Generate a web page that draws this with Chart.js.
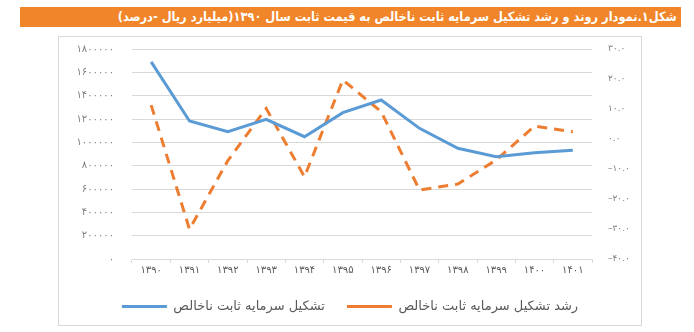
<!DOCTYPE html>
<html lang="fa">
<head>
<meta charset="utf-8">
<script src="https://cdn.jsdelivr.net/npm/chart.js@4.4.1/dist/chart.umd.min.js"></script>
<style>
  body { margin: 0; background: #fff; width: 694px; height: 332px; overflow: hidden; font-family: "DejaVu Sans", sans-serif; }
  .title-bar { position: absolute; left: 20px; top: 7px; width: 661px; height: 20px; background: #F0852A; }
  .title-bar span { position: absolute; right: 4px; top: 1px; color: #fff; font-weight: bold; font-size: 13px; line-height: 17px; white-space: nowrap; direction: rtl; transform-origin: right center; }
  .chart-box { position: absolute; left: 58px; top: 36px; width: 582px; height: 288px; border: 1px solid #d9d9d9; }
</style>
</head>
<body>
<div class="title-bar"><span id="title">شکل۱.نمودار روند و رشد تشکیل سرمایه ثابت ناخالص به قیمت ثابت سال ۱۳۹۰(میلیارد ریال -درصد)</span></div>
<div class="chart-box"><canvas id="chart" width="582" height="288"></canvas></div>
<script>
const years = ['۱۳۹۰', '۱۳۹۱', '۱۳۹۲', '۱۳۹۳', '۱۳۹۴', '۱۳۹۵', '۱۳۹۶', '۱۳۹۷', '۱۳۹۸', '۱۳۹۹', '۱۴۰۰', '۱۴۰۱'];
// تشکیل سرمایه ثابت ناخالص (میلیارد ریال)
const capital = [1690000, 1183000, 1091000, 1197000, 1048000, 1254000, 1363000, 1120000, 949000, 877000, 911000, 932000];
// رشد (درصد)
const growth = [11.3, -30.1, -7.2, 10.2, -12.6, 19.7, 9.1, -17.0, -15.0, -7.0, 4.3, 2.4];
const seriesNames = ['تشکیل سرمایه ثابت ناخالص', 'رشد تشکیل سرمایه ثابت ناخالص'];

const faDigits = '۰۱۲۳۴۵۶۷۸۹';
const toFa = s => String(s).replace(/\d/g, d => faDigits[d]);

// فیت کردن عنوان در نوار نارنجی
const title = document.getElementById('title');
const titleW = title.getBoundingClientRect().width;
title.style.transform = 'scaleX(' + (559 / titleW) + ')';

// ارتفاع لجند کمتر از حالت پیش‌فرض
const legendHeight = {
  id: 'legendHeight',
  beforeInit(chart) {
    const fit = chart.legend.fit;
    chart.legend.fit = function () {
      fit.call(this);
      this.height = 40;
    };
  }
};

// عرض ثابت محور و بدون فاصله‌ی اضافه بالا و پایین
const fixAxis = w => s => {
  s.width = w;
  s.paddingTop = 0;
  s.paddingBottom = 0;
};

new Chart(document.getElementById('chart'), {
  type: 'line',
  data: {
    labels: years,
    datasets: [
      {
        label: seriesNames[0],
        data: capital,
        yAxisID: 'y',
        borderColor: '#5B9BD5',
        backgroundColor: '#5B9BD5',
        borderWidth: 3,
        pointRadius: 0,
        pointStyle: 'line',
        tension: 0
      },
      {
        label: seriesNames[1],
        data: growth,
        yAxisID: 'y1',
        borderColor: '#ED7D31',
        backgroundColor: '#ED7D31',
        borderWidth: 3,
        borderDash: [10, 7],
        pointRadius: 0,
        pointStyle: 'line',
        tension: 0
      }
    ]
  },
  options: {
    responsive: false,
    animation: false,
    layout: { padding: { top: 12, bottom: 7, left: 0, right: 0 } },
    plugins: {
      tooltip: { enabled: false },
      legend: {
        position: 'bottom',
        labels: {
          usePointStyle: true,
          pointStyleWidth: 45,
          padding: 22,
          color: '#595959',
          font: { family: 'DejaVu Sans', size: 13 }
        }
      }
    },
    scales: {
      x: {
        offset: true,
        afterFit: s => { s.height = 19; },
        grid: { offset: true, drawOnChartArea: false, tickLength: 4, color: '#d9d9d9' },
        border: { color: '#d9d9d9' },
        ticks: { padding: 1, color: '#595959', font: { family: 'DejaVu Sans', size: 10 }, maxRotation: 0 }
      },
      y: {
        position: 'left',
        min: 0,
        max: 1800000,
        afterFit: fixAxis(73),
        grid: { color: '#d9d9d9', drawTicks: false },
        border: { display: false },
        ticks: { stepSize: 200000, padding: 18, color: '#7f7f7f', font: { family: 'DejaVu Sans', size: 10 }, callback: v => toFa(v) }
      },
      y1: {
        position: 'right',
        min: -40,
        max: 30,
        afterFit: fixAxis(49),
        grid: { drawOnChartArea: false, drawTicks: false },
        border: { display: false },
        ticks: {
          stepSize: 10,
          padding: 16,
          color: '#7f7f7f',
          font: { family: 'DejaVu Sans', size: 9 },
          callback: v => (v < 0 ? '–' : '') + toFa(Math.abs(v).toFixed(1))
        }
      }
    }
  },
  plugins: [legendHeight]
});
</script>
</body>
</html>
